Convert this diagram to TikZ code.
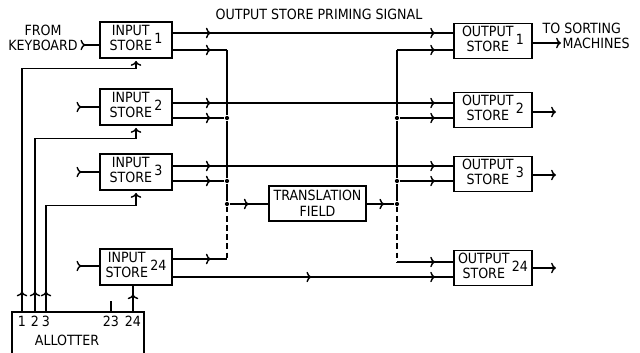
\documentclass[tikz,border=0pt]{standalone}
\usepackage{fontspec}
\setmainfont{DejaVu Sans Condensed}
\usetikzlibrary{arrows.meta,decorations.markings}
\begin{document}
\begin{tikzpicture}[x=0.025cm,y=-0.025cm,
 >={To[length=3.5pt,width=7.5pt]},
 line width=1pt,
 font=\fontsize{10}{11}\selectfont,
 instore/.style={draw,line width=1.2pt,inner sep=1pt,minimum width=1.8cm,minimum height=.9cm},
 outstore/.style={draw,line width=1.2pt,inner sep=1pt,minimum width=1.95cm,minimum height=.875cm},
 junction/.style={circle,fill,inner sep=0pt,minimum size=3pt},
 buslink/.style={dash pattern=on 4pt off 2.5pt},
 midarr/.style={postaction={decorate,decoration={markings,mark=at position #1 with {\arrow{>}}}}}]
 \useasboundingbox (0,0) rectangle (640,353);
 \node (prim) at (319,14) {OUTPUT STORE PRIMING SIGNAL};
 \node[align=center] (kb) at (43,38) {FROM\\KEYBOARD};
 \node[anchor=west,inner sep=0pt,align=left] (sort) at (542,36) {TO SORTING\\\hspace*{0.5cm}MACHINES};
 \node[instore] (in1) at (136,40) {\begin{tabular}{@{}c@{}}INPUT\\STORE\end{tabular}\,1};
 \node[instore] (in2) at (136,107) {\begin{tabular}{@{}c@{}}INPUT\\STORE\end{tabular}\,2};
 \node[instore] (in3) at (136,172) {\begin{tabular}{@{}c@{}}INPUT\\STORE\end{tabular}\,3};
 \node[instore] (in24) at (136,267) {\begin{tabular}{@{}c@{}}INPUT\\STORE\end{tabular}\,24};
 \node[outstore] (out1) at (493,41) {\begin{tabular}{@{}c@{}}OUTPUT\\STORE\end{tabular}\,1};
 \node[outstore] (out2) at (493,110) {\begin{tabular}{@{}c@{}}OUTPUT\\STORE\end{tabular}\,2};
 \node[outstore] (out3) at (493,174) {\begin{tabular}{@{}c@{}}OUTPUT\\STORE\end{tabular}\,3};
 \node[outstore] (out24) at (493,268) {\begin{tabular}{@{}c@{}}OUTPUT\\STORE\end{tabular}\,24};
 \node[draw,line width=1.2pt,inner sep=1pt,minimum width=2.425cm,minimum height=.875cm,align=center]
   (trans) at (317.5,203.5) {TRANSLATION\\FIELD};
 \node[draw,line width=1.2pt,minimum width=3.3cm,minimum height=1.5cm] (allot) at (78,342) {};
 \node (allottxt) at (67,340) {ALLOTTER};
 \node (l1) at (22,321) {1};
 \node (l2) at (35,321) {2};
 \node (l3) at (46,321) {3};
 \node (l23) at (111,321) {23};
 \node (l24) at (133,321) {24};
 \coordinate (kbin) at (84,45);
 \coordinate (s2in) at (80,107);
 \coordinate (s3in) at (80,172);
 \coordinate (s24in) at (80,266);
 \coordinate (bl1) at (227,50);
 \coordinate (bl24) at (227,259);
 \coordinate (br1) at (397,50);
 \coordinate (br24) at (397,262);
 \coordinate (sortin) at (561,43);
 \coordinate (o2x) at (556,112);
 \coordinate (o3x) at (556,175);
 \coordinate (o24x) at (556,268);
 \node[junction] (jl2) at (227,118) {};
 \node[junction] (jl3) at (227,181) {};
 \node[junction] (jlt) at (227,204) {};
 \node[junction] (jr2) at (397,118) {};
 \node[junction] (jr3) at (397,181) {};
 \node[junction] (jrt) at (397,204) {};
 \draw[midarr=1pt] (kbin) -- (in1.west |- kbin);
 \draw[midarr=1pt] (s2in) -- (in2.west |- s2in);
 \draw[midarr=1pt] (s3in) -- (in3.west |- s3in);
 \draw[midarr=1pt] (s24in) -- (in24.west |- s24in);
 \draw[midarr=27pt,midarr=-12.8pt] (in1.east |- 0,33) -- (out1.west |- 0,33);
 \draw[midarr=27pt,midarr=-12.8pt] (in2.east |- 0,103) -- (out2.west |- 0,103);
 \draw[midarr=27pt,midarr=-12.8pt] (in3.east |- 0,166) -- (out3.west |- 0,166);
 \draw[midarr=98.5pt,midarr=-12.8pt] (in24.east |- 0,277) -- (out24.west |- 0,277);
 \draw[midarr=27pt] (in1.east |- bl1) -- (bl1);
 \draw[midarr=27pt] (in2.east |- jl2) -- (jl2);
 \draw[midarr=27pt] (in3.east |- jl3) -- (jl3);
 \draw[midarr=27pt] (in24.east |- bl24) -- (bl24);
 \draw (bl1) -- (jl2) -- (jl3) -- (jlt);
 \draw[buslink] (jlt) -- (bl24);
 \draw[midarr=13.5pt] (jlt) -- (trans.west |- jlt);
 \draw[midarr=-7pt] (trans.east |- jrt) -- (jrt);
 \draw (br1) -- (jr2) -- (jr3) -- (jrt);
 \draw[buslink] (jrt) -- (br24);
 \draw[midarr=-12.8pt] (br1) -- (out1.west |- br1);
 \draw[midarr=-12.8pt] (jr2) -- (out2.west |- jr2);
 \draw[midarr=-12.8pt] (jr3) -- (out3.west |- jr3);
 \draw[midarr=-12.8pt] (br24) -- (out24.west |- br24);
 \draw[->] (out1.east |- sortin) -- (sortin);
 \draw[->] (out2.east |- o2x) -- (o2x);
 \draw[->] (out3.east |- o3x) -- (o3x);
 \draw[->] (out24.east |- o24x) -- (o24x);
 \draw[->,midarr=14pt,shorten >=1.5pt] (allot.north -| l1) |- ([yshift=-7pt]in1.south) -- (in1.south);
 \draw[->,midarr=14pt,shorten >=1.5pt] (allot.north -| l2) |- ([yshift=-9pt]in2.south) -- (in2.south);
 \draw[->,midarr=14pt,shorten >=1.5pt] (allot.north -| l3) |- ([yshift=-10.5pt]in3.south) -- (in3.south);
 \draw[midarr=12pt] (allot.north -| l24) -- (in24.south -| l24);
 \draw (allot.north -| l23) -- ++(0,-10);
\end{tikzpicture}
\end{document}
